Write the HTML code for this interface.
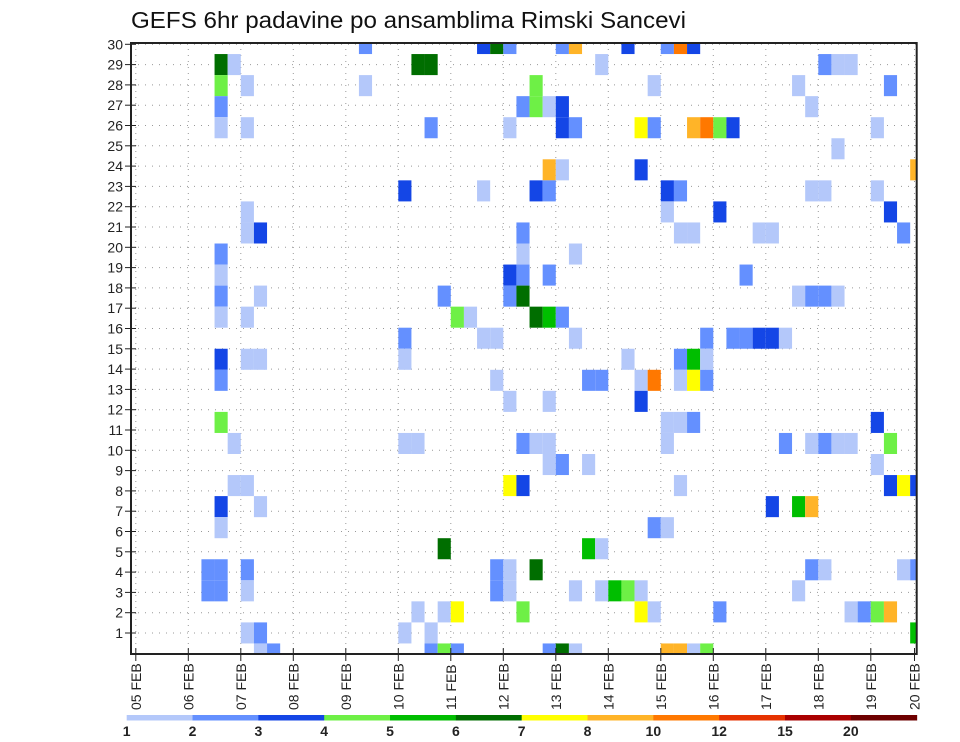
<!DOCTYPE html>
<html><head><meta charset="utf-8"><style>
body{margin:0;background:#fff}
svg{display:block;font-family:"Liberation Sans",sans-serif}
</style></head><body>
<svg id="chart" width="960" height="742" viewBox="0 0 960 742" xmlns="http://www.w3.org/2000/svg">
<text x="131" y="28" font-size="23" fill="#111" textLength="555" lengthAdjust="spacingAndGlyphs">GEFS 6hr padavine po ansamblima Rimski Sancevi</text>
<defs><clipPath id="plotclip"><rect x="131" y="43" width="785.7" height="611"/></clipPath></defs>
<g id="grid"></g>
<g id="cells" clip-path="url(#plotclip)"></g>
<rect x="131" y="43" width="785.7" height="611" fill="none" stroke="#222" stroke-width="2"/>
<g id="axes"></g>
<g id="legend"></g>
</svg>
<script>
const NS="http://www.w3.org/2000/svg";
const dayLabels=["05 FEB","06 FEB","07 FEB","08 FEB","09 FEB","10 FEB","11 FEB","12 FEB","13 FEB","14 FEB","15 FEB","16 FEB","17 FEB","18 FEB","19 FEB","20 FEB"];
const memberLabels=[1,2,3,4,5,6,7,8,9,10,11,12,13,14,15,16,17,18,19,20,21,22,23,24,25,26,27,28,29,30];
const legendLevels=[1,2,3,4,5,6,7,8,10,12,15,20];
const legendColors=["#b4c8fa","#6490ff","#1446e6","#6ef046","#00be00","#006e00","#ffff00","#ffb428","#ff7800","#e63200","#aa0000","#6e0000"];
// cells: time step (6h index from 05 FEB 00Z), ensemble row (from top), precipitation value
const cellTime=[17,6,7,6,8,17,6,6,8,8,8,9,6,6,6,6,9,8,6,6,8,9,6,7,7,8,6,9,6,5,6,5,6,8,8,8,9,9,10,
26,27,28,32,33,37,21,22,35,30,39,29,30,31,32,22,28,32,33,38,39,31,32,38,20,26,30,31,29,29,33,28,29,31,23,28,29,24,25,30,31,32,20,26,27,33,
20,37,27,34,35,38,39,28,31,38,20,21,29,30,31,31,32,34,28,29,39,23,34,35,27,28,30,27,28,33,35,36,37,38,21,23,24,29,38,39,20,22,22,23,24,31,32,33,
40,41,42,52,53,54,50,57,51,42,43,44,45,56,53,59,40,41,51,52,56,40,44,57,41,42,47,48,58,46,50,51,52,53,43,45,46,47,48,49,
41,42,43,41,42,43,40,41,42,56,40,49,51,52,53,54,57,56,41,57,58,59,48,50,51,40,51,52,58,59,50,44,54,55,56,57,59,40,41,42,43];
const cellRow=[0,1,1,2,2,2,3,4,4,8,9,9,10,11,12,13,12,13,15,16,15,15,18,19,21,21,22,22,23,25,25,26,26,25,26,28,28,29,29,
0,0,0,0,0,0,1,1,1,2,2,3,3,3,3,4,4,4,4,4,4,6,6,6,7,7,7,7,9,10,10,11,11,11,12,12,12,13,13,13,13,13,14,14,14,14,
15,15,16,16,16,16,16,17,17,17,19,19,19,19,19,20,20,20,21,21,23,24,24,24,25,25,25,26,26,26,26,26,26,26,27,27,27,27,27,27,28,28,29,29,29,29,29,29,
0,0,0,1,1,1,2,2,3,4,4,4,4,4,5,6,7,7,7,7,7,8,8,8,9,9,9,9,9,11,12,12,12,12,14,14,14,14,14,14,
15,15,15,16,16,16,18,18,18,18,19,19,19,19,19,19,19,20,21,21,21,21,22,22,22,23,25,25,25,25,26,27,27,27,27,27,28,29,29,29,29];
const cellValue=[2.5,6.5,1.5,4.5,1.5,1.5,2.5,1.5,1.5,1.5,1.5,3.5,2.5,1.5,2.5,1.5,1.5,1.5,3.5,2.5,1.5,1.5,4.5,1.5,1.5,1.5,3.5,1.5,1.5,2.5,2.5,2.5,2.5,2.5,1.5,1.5,2.5,1.5,2.5,
3.5,6.5,2.5,2.5,9,3.5,6.5,6.5,1.5,4.5,1.5,2.5,4.5,1.5,3.5,2.5,1.5,3.5,2.5,7.5,2.5,9,1.5,3.5,3.5,1.5,3.5,2.5,2.5,1.5,1.5,3.5,2.5,2.5,2.5,2.5,6.5,4.5,1.5,6.5,5.5,2.5,2.5,1.5,1.5,1.5,
1.5,1.5,1.5,2.5,2.5,1.5,11,1.5,1.5,3.5,1.5,1.5,2.5,1.5,1.5,1.5,2.5,1.5,7.5,3.5,2.5,6.5,5.5,1.5,2.5,1.5,6.5,2.5,1.5,1.5,1.5,5.5,4.5,1.5,1.5,1.5,7.5,4.5,7.5,1.5,1.5,1.5,2.5,4.5,2.5,2.5,6.5,1.5,
2.5,11,3.5,2.5,1.5,1.5,1.5,2.5,1.5,9,11,4.5,3.5,1.5,1.5,9,3.5,2.5,1.5,1.5,1.5,1.5,3.5,3.5,1.5,1.5,1.5,1.5,2.5,2.5,1.5,2.5,2.5,1.5,2.5,2.5,2.5,3.5,3.5,1.5,
2.5,5.5,1.5,1.5,7.5,2.5,1.5,1.5,2.5,3.5,1.5,2.5,1.5,2.5,1.5,1.5,4.5,1.5,1.5,3.5,7.5,3.5,3.5,5.5,9,1.5,2.5,1.5,1.5,2.5,1.5,2.5,1.5,2.5,4.5,9,5.5,9,9,1.5,4.5];

const X0=135.8, STEP=13.125, DAY=52.5, CELLTOP=33, CELLH=21.05;
const xScale=t=>X0+t*STEP;
const yCell=c=>CELLTOP+c*CELLH;
const yMember=m=>44.3+(30-m)*20.3;
function colorFor(v){let k=0;for(let j=0;j<legendLevels.length;j++){if(v>=legendLevels[j])k=j;}return legendColors[k];}

const grid=document.getElementById('grid');
for(let d=0;d<dayLabels.length;d++){
  const x=Math.min(X0+d*DAY,914.5);
  const l=document.createElementNS(NS,'line');
  
  
  l.setAttribute('x1',x);l.setAttribute('x2',x);l.setAttribute('y1',43);l.setAttribute('y2',654);
  l.setAttribute('stroke','#999');l.setAttribute('stroke-width','1');l.setAttribute('stroke-dasharray','1 5');
  grid.appendChild(l);
}
memberLabels.forEach(m=>{
  const y=yMember(m);
  const l=document.createElementNS(NS,'line');
  
  
  l.setAttribute('x1',131);l.setAttribute('x2',916);l.setAttribute('y1',y);l.setAttribute('y2',y);
  l.setAttribute('stroke','#999');l.setAttribute('stroke-width','1');l.setAttribute('stroke-dasharray','1 6');
  grid.appendChild(l);
});

const cells=document.getElementById('cells');
for(let k=0;k<cellTime.length;k++){
  const r=document.createElementNS(NS,'rect');
  
  
  r.setAttribute('x',xScale(cellTime[k]));
  r.setAttribute('y',yCell(cellRow[k]));
  r.setAttribute('width',STEP);
  r.setAttribute('height',CELLH);
  r.setAttribute('fill',colorFor(cellValue[k]));
  cells.appendChild(r);
}

const axes=document.getElementById('axes');
memberLabels.forEach(m=>{
  const y=yMember(m);
  const t=document.createElementNS(NS,'line');
  
  
  t.setAttribute('x1',125);t.setAttribute('x2',136);t.setAttribute('y1',y);t.setAttribute('y2',y);
  t.setAttribute('stroke','#222');t.setAttribute('stroke-width','1');
  axes.appendChild(t);
  const tx=document.createElementNS(NS,'text');
  
  
  tx.setAttribute('x',123);tx.setAttribute('y',y+5);tx.setAttribute('text-anchor','end');
  tx.setAttribute('font-size','14');tx.setAttribute('fill','#222');
  tx.textContent=m;
  axes.appendChild(tx);
});
dayLabels.forEach((lab,d)=>{
  const x=Math.min(X0+d*DAY,914.5);
  const t=document.createElementNS(NS,'line');
  
  
  t.setAttribute('x1',x);t.setAttribute('x2',x);t.setAttribute('y1',648);t.setAttribute('y2',661);
  t.setAttribute('stroke','#222');t.setAttribute('stroke-width','1');
  axes.appendChild(t);
  const tx=document.createElementNS(NS,'text');
  
  
  tx.setAttribute('transform','translate('+(x+5)+',710) rotate(-90)');
  tx.setAttribute('font-size','14');tx.setAttribute('fill','#222');
  tx.textContent=lab;
  axes.appendChild(tx);
});

const legend=document.getElementById('legend');
const LX=126.7, LW=65.83;
legendColors.forEach((c,k)=>{
  const r=document.createElementNS(NS,'rect');
  
  
  r.setAttribute('x',LX+k*LW);r.setAttribute('y',715);r.setAttribute('width',LW+0.5);r.setAttribute('height',5.5);
  r.setAttribute('fill',c);
  legend.appendChild(r);
});
legendLevels.forEach((v,k)=>{
  const tx=document.createElementNS(NS,'text');
  
  
  tx.setAttribute('x',LX+k*LW);tx.setAttribute('y',736);tx.setAttribute('text-anchor','middle');
  tx.setAttribute('font-size','14');tx.setAttribute('font-weight','bold');tx.setAttribute('fill','#222');
  tx.textContent=v;
  legend.appendChild(tx);
});
</script>
</body></html>
